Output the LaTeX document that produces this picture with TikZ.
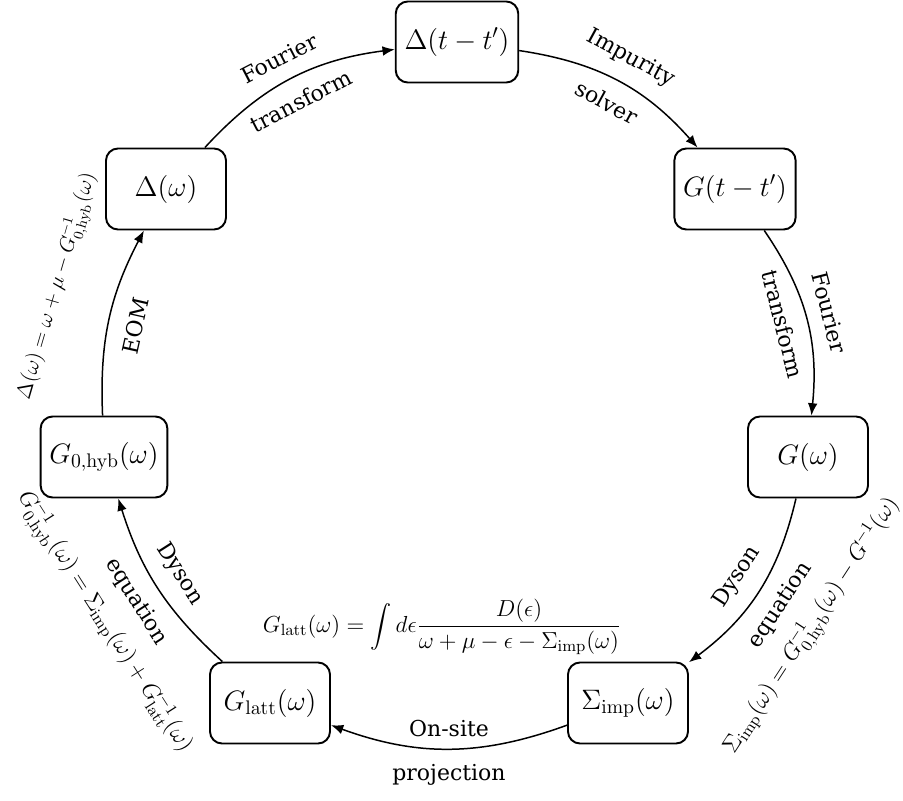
\RequirePackage{fix-cm}
\documentclass[tikz,border=0pt]{standalone}
\usepackage[no-math]{fontspec}
\usepackage{amsmath}
\usetikzlibrary{arrows.meta}
\newfontfamily\labelfont{DejaVu Serif}

\begin{document}
\begin{tikzpicture}[
    >={Latex[length=7pt,width=5.5pt]},
    stagebox/.style={draw, line width=1.1pt, rounded corners=0.24cm,
        minimum width=2.4cm, minimum height=1.62cm, inner sep=5pt,
        font=\fontsize{16}{19}\selectfont},
    flowarrow/.style={->, line width=0.85pt, bend left=20},
    steplabel/.style={sloped, font=\labelfont\fontsize{12.5}{14}\selectfont},
    eqlabel/.style={sloped, font=\fontsize{13.2}{15}\selectfont}
]
    % --- 参数 ---
    \def\gap{5pt}     % 文字与箭头的距离
    \def\eqgap{24pt}  % 公式与箭头的距离

    % --- 画布大小 ---
    \useasboundingbox (0,0) rectangle (18.06,-16.02);

    % --- 七个方框 (顺时针) ---
    \node[stagebox] (dtt) at (9.14,-0.84) {$\Delta(t-t')$};
    \node[stagebox] (gtt) at (14.70,-3.78) {$G(t-t')$};
    \node[stagebox] (gw) at (16.16,-9.14) {$G(\omega)$};
    \node[stagebox] (sigma) at (12.56,-14.06) {$\Sigma_{\mathrm{imp}}(\omega)$};
    \node[stagebox] (glatt) at (5.40,-14.06) {$G_{\mathrm{latt}}(\omega)$};
    \node[stagebox] (gzero) at (2.08,-9.14) {$G_{0,\mathrm{hyb}}(\omega)$};
    \node[stagebox] (dw) at (3.32,-3.78) {$\Delta(\omega)$};

    % --- 箭头和标签 ---
    % Delta(omega) -> Delta(t-t')
    \draw[flowarrow] (dw) to
        node[steplabel, above=\gap] {Fourier}
        node[steplabel, below=\gap] {transform} (dtt);
    % Delta(t-t') -> G(t-t')
    \draw[flowarrow] (dtt) to
        node[steplabel, above=\gap] {Impurity}
        node[steplabel, below=\gap] {solver} (gtt);
    % G(t-t') -> G(omega)
    \draw[flowarrow] (gtt) to
        node[steplabel, above=\gap] {Fourier}
        node[steplabel, below=\gap] {transform} (gw);
    % G(omega) -> Sigma_imp
    \draw[flowarrow] (gw) to
        node[steplabel, above=\gap] {Dyson}
        node[steplabel, below=\gap] {equation}
        node[eqlabel, below=\eqgap] {$\Sigma_{\mathrm{imp}}(\omega)=G^{-1}_{0,\mathrm{hyb}}(\omega)-G^{-1}(\omega)$} (sigma);
    % Sigma_imp -> G_latt
    \draw[flowarrow] (sigma) to
        node[steplabel, above=3pt] {On-site}
        node[steplabel, below=\gap] {projection} (glatt);
    % G_latt -> G_0,hyb
    \draw[flowarrow, bend left=15] (glatt) to
        node[steplabel, above=\gap] {Dyson}
        node[steplabel, below=\gap] {equation}
        node[eqlabel, below=\eqgap] {$G^{-1}_{0,\mathrm{hyb}}(\omega)=\Sigma_{\mathrm{imp}}(\omega)+G^{-1}_{\mathrm{latt}}(\omega)$} (gzero);
    % G_0,hyb -> Delta(omega)
    \draw[flowarrow, bend left=15] (gzero) to
        node[steplabel, below=7pt] {EOM}
        node[eqlabel, pos=0.6, above=22pt, font=\fontsize{12}{14}\selectfont] {$\Delta(\omega)=\omega+\mu-G^{-1}_{0,\mathrm{hyb}}(\omega)$} (dw);

    % --- 晶格格林函数公式 ---
    \node[font=\fontsize{13.2}{16}\selectfont] (glattform) at (8.84,-12.54)
        {$\displaystyle G_{\mathrm{latt}}(\omega)=\int d\epsilon\frac{D(\epsilon)}{\omega+\mu-\epsilon-\Sigma_{\mathrm{imp}}(\omega)}$};

\end{tikzpicture}
\end{document}
